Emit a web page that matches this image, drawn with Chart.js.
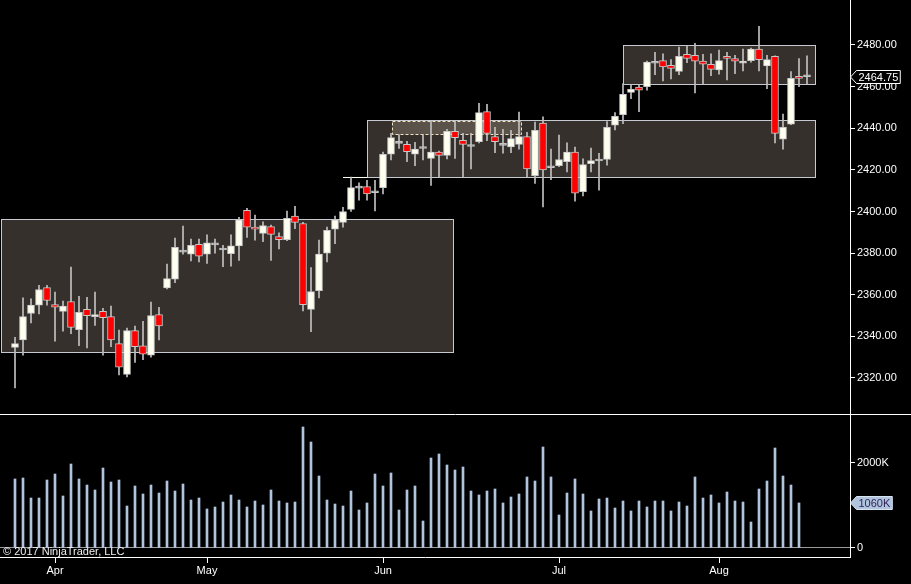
<!DOCTYPE html>
<html>
<head>
<meta charset="utf-8">
<script src="https://cdn.jsdelivr.net/npm/chart.js@4.4.1/dist/chart.umd.min.js"></script>
<style>
  html, body { margin: 0; padding: 0; background: #000; overflow: hidden; }
  #pricePane { position: absolute; left: 0; top: 0; }
  #volPane { position: absolute; left: 0; top: 414px; }
</style>
</head>
<body>
<div id="pricePane"><canvas id="priceChart" width="911" height="414"></canvas></div>
<div id="volPane"><canvas id="volChart" width="911" height="170"></canvas></div>
<script>
// daily bars, index 0 = Mar 27 2017
const opens = [
  2334.75, 2338.25, 2351, 2355, 2363.5, 2355.25, 2352, 2356.75, 2343.25, 2353,
  2349.5, 2352, 2349.5, 2336.5, 2321.75, 2342.75, 2335.5, 2331, 2350.5, 2363.25,
  2367.5, 2380.5, 2379.5, 2384.25, 2379.5, 2384, 2381.5, 2379.75, 2383.5, 2400.5,
  2392.5, 2389.5, 2392.75, 2388, 2386.5, 2397.75, 2394.25, 2353, 2362, 2380,
  2391.5, 2394.75, 2401, 2411.25, 2412, 2409, 2411.5, 2427.5, 2432.75, 2432.25,
  2427.5, 2430.25, 2425.5, 2428.5, 2427, 2438.5, 2434.25, 2431.25, 2433.5, 2448,
  2436, 2431.75, 2431, 2432.25, 2436, 2417.25, 2442.5, 2421, 2422, 2424,
  2428.5, 2409.5, 2423, 2424.25, 2425, 2441.5, 2446.5, 2457.25, 2459.75, 2460,
  2471.25, 2472.5, 2470.25, 2467.25, 2475.5, 2475, 2472.25, 2470.75, 2468, 2474.5,
  2473.5, 2471.25, 2472.5, 2478, 2470, 2474.5, 2434.75, 2442, 2465, 2464.75
];
const highs = [
  2339.5, 2358.5, 2358, 2364.5, 2364.5, 2361.25, 2357, 2373.25, 2359.25, 2358.75,
  2361.25, 2353.5, 2354.5, 2343, 2344, 2345, 2347.25, 2356.5, 2354, 2374.75,
  2387.25, 2393, 2386.75, 2386.75, 2388.75, 2386.75, 2383.75, 2388.75, 2397.25, 2401.5,
  2398.25, 2395, 2393.5, 2389.75, 2400.25, 2402.5, 2394.75, 2373, 2386.25, 2392.5,
  2397.75, 2402, 2416.5, 2413.75, 2415, 2415, 2428.5, 2437.5, 2437, 2433.75,
  2433.25, 2437, 2443.5, 2429, 2439.5, 2443.5, 2437.5, 2437.5, 2452, 2451.5,
  2440.5, 2439.5, 2439, 2447.75, 2438, 2443, 2445.5, 2430, 2436.75, 2433,
  2431, 2425.25, 2430.5, 2428, 2443.25, 2447.5, 2461.5, 2461, 2461, 2472.25,
  2476.5, 2475.75, 2473, 2479, 2479.5, 2480.75, 2475.5, 2475.75, 2477.5, 2476.5,
  2475, 2478, 2478.5, 2489, 2475, 2474.75, 2446.75, 2467.25, 2473.5, 2474.75
];
const lows = [
  2315.25, 2331, 2346.5, 2350.75, 2355, 2337.75, 2342.5, 2341.25, 2335.5, 2334.5,
  2345.25, 2331, 2335, 2321.5, 2320.5, 2327.5, 2328.75, 2330, 2338.25, 2362.75,
  2365.75, 2379.5, 2376.25, 2375.75, 2375, 2380, 2373.5, 2373.75, 2376.5, 2387.5,
  2386.25, 2385.5, 2376.5, 2382, 2386, 2391.75, 2352.25, 2342.25, 2358.5, 2375.75,
  2384.5, 2392.5, 2400, 2405.5, 2405.5, 2400.25, 2408.5, 2424.75, 2430.25, 2424,
  2422, 2424.75, 2412.5, 2416.25, 2425.25, 2425.5, 2416.25, 2420.5, 2433, 2434,
  2428.25, 2428, 2428.25, 2430, 2416.5, 2413.5, 2402.25, 2415.25, 2421.5, 2419,
  2405, 2407.5, 2419, 2410.25, 2422.25, 2439.25, 2442.25, 2454.25, 2448, 2458.25,
  2465.75, 2462.75, 2463.75, 2465.75, 2471.5, 2457, 2461, 2465.25, 2466, 2463.25,
  2466.25, 2467.5, 2471.75, 2467.5, 2459, 2433, 2430, 2441.75, 2460, 2461.25
];
const closes = [
  2336.5, 2349.5, 2355, 2362.5, 2357.25, 2354, 2354.5, 2344.25, 2351.5, 2350,
  2350.5, 2349, 2338.25, 2325.25, 2342.75, 2335, 2331.5, 2350, 2345, 2367.75,
  2382.75, 2380.5, 2383.75, 2378.5, 2385, 2384, 2381.5, 2383.5, 2396, 2392.5,
  2391.5, 2393.25, 2389, 2386.5, 2396.75, 2394.75, 2355.25, 2361.5, 2379.5, 2391,
  2396, 2400, 2411.5, 2411.25, 2408.5, 2409, 2427.5, 2435.5, 2432.75, 2428.75,
  2430, 2430.25, 2428.5, 2427, 2438.5, 2435.5, 2432.25, 2431.25, 2447.5, 2437.5,
  2433.5, 2431.75, 2435, 2436, 2420.5, 2439, 2420, 2421, 2425, 2428.5,
  2408.75, 2422.5, 2424.5, 2424.25, 2440.5, 2445.75, 2456.25, 2458.75, 2458.25, 2471.75,
  2471.25, 2469.5, 2468.75, 2474.5, 2473.5, 2472.25, 2470.75, 2468.25, 2472.5, 2473.5,
  2472.25, 2472.25, 2478, 2473, 2473, 2437.5, 2440.5, 2464, 2464, 2464.75
];
// volume in thousands of contracts (no bar for the last session)
const volumes = [
  1624, 1647, 1176, 1176, 1600, 1741, 1224, 1976, 1624, 1482,
  1365, 1882, 1553, 1600, 988, 1459, 1271, 1482, 1294, 1576,
  1341, 1506, 1129, 1176, 918, 965, 1082, 1247, 1129, 965,
  1106, 1012, 1365, 1106, 1059, 1082, 2847, 2494, 1694, 1129,
  1035, 988, 1341, 894, 1059, 1741, 1459, 1765, 894, 1365,
  1459, 635, 2118, 2212, 1953, 1835, 1906, 1341, 1247, 1341,
  1388, 1059, 1200, 1271, 1671, 1576, 2376, 1671, 776, 1294,
  1624, 1271, 871, 1153, 1176, 941, 1106, 871, 1106, 965,
  1106, 1106, 871, 1082, 988, 1671, 1176, 1247, 1059, 1318,
  1106, 1082, 612, 1388, 1576, 2353, 1694, 1482, 1060
];

const priceTicks = [2320, 2340, 2360, 2380, 2400, 2420, 2440, 2460, 2480];
const volumeTicks = [0, 2000];
const monthTickIdx = [5, 24, 46, 68, 88];
const monthLabels = ['Apr', 'May', 'Jun', 'Jul', 'Aug'];

// drawn rectangles (bar index from/to, price high/low)
const zoneFrom = [-1.75, 44.04, 76.04];
const zoneTo = [54.75, 100.04, 99.96];
const zoneHigh = [2396.2, 2443.9, 2480];
const zoneLow = [2332.7, 2416.4, 2461.1];
const boxFrom = [47.16];
const boxTo = [63.3];
const boxHigh = [2443.3];
const boxLow = [2437.4];
const lineFrom = [41];
const lineTo = [44.04];
const linePrice = [2416.4];

// axis ranges
const xMin = -1.875, xMax = 104.375;
const priceMin = 2302.7, priceMax = 2501.62;
const volMin = -211.8, volMax = 3152.9;

const UP = '#fffff0';
const DOWN = '#ff0000';
const OUTLINE = '#c8c8c8';
const WICK = '#c0c0c0';
const VOL = '#b0c4de';
const ZONE_FILL = '#35302c';
const ZONE_LINE = '#c5cad0';

Chart.defaults.font.family = '"Liberation Sans", Arial, sans-serif';
Chart.defaults.font.size = 11;
Chart.defaults.color = '#ffffff';

function drawTag(ctx, x, y, text, fill, stroke, color) {
  ctx.save();
  ctx.font = '11px "Liberation Sans", Arial, sans-serif';
  const w = ctx.measureText(text).width + 4;
  ctx.beginPath();
  ctx.moveTo(x + 0.5, y);
  ctx.lineTo(x + 6.5, y - 6.5);
  ctx.lineTo(x + 6.5 + w, y - 6.5);
  ctx.lineTo(x + 6.5 + w, y + 6.5);
  ctx.lineTo(x + 6.5, y + 6.5);
  ctx.closePath();
  ctx.fillStyle = fill;
  ctx.fill();
  ctx.strokeStyle = stroke;
  ctx.lineWidth = 1;
  ctx.stroke();
  ctx.fillStyle = color;
  ctx.textBaseline = 'middle';
  ctx.textAlign = 'left';
  ctx.fillText(text, x + 8.5, y + 0.5);
  ctx.restore();
}

const px = v => Math.round(v) + 0.5;

const zonePlugin = {
  id: 'zones',
  beforeDatasetsDraw(chart) {
    const { ctx } = chart;
    const xs = chart.scales.x, ys = chart.scales.y;
    ctx.save();
    for (let i = 0; i < zoneFrom.length; i++) {
      const x0 = px(xs.getPixelForValue(zoneFrom[i]));
      const x1 = px(xs.getPixelForValue(zoneTo[i]));
      const y0 = px(ys.getPixelForValue(zoneHigh[i]));
      const y1 = px(ys.getPixelForValue(zoneLow[i]));
      ctx.fillStyle = ZONE_FILL;
      ctx.fillRect(x0, y0, x1 - x0, y1 - y0);
      ctx.strokeStyle = ZONE_LINE;
      ctx.lineWidth = 1;
      ctx.strokeRect(x0, y0, x1 - x0, y1 - y0);
    }
    for (let i = 0; i < boxFrom.length; i++) {
      const x0 = px(xs.getPixelForValue(boxFrom[i]));
      const x1 = px(xs.getPixelForValue(boxTo[i]));
      const y0 = px(ys.getPixelForValue(boxHigh[i]));
      const y1 = px(ys.getPixelForValue(boxLow[i]));
      ctx.fillStyle = '#5b5249';
      ctx.fillRect(x0, y0, x1 - x0, y1 - y0);
      ctx.setLineDash([3, 2]);
      ctx.strokeStyle = '#f2e2c0';
      ctx.strokeRect(x0, y0, x1 - x0, y1 - y0);
      ctx.setLineDash([]);
    }
    for (let i = 0; i < lineFrom.length; i++) {
      const yy = px(ys.getPixelForValue(linePrice[i]));
      ctx.strokeStyle = '#fffff0';
      ctx.beginPath();
      ctx.moveTo(xs.getPixelForValue(lineFrom[i]), yy);
      ctx.lineTo(xs.getPixelForValue(lineTo[i]), yy);
      ctx.stroke();
    }
    ctx.restore();
  },
  afterDraw(chart) {
    const ys = chart.scales.y;
    const last = closes[closes.length - 1];
    drawTag(chart.ctx, chart.chartArea.right, Math.round(ys.getPixelForValue(last)),
      last.toFixed(2), '#000000', '#ffffff', '#ffffff');
  }
};

const volPlugin = {
  id: 'volDecor',
  afterDraw(chart) {
    const { ctx, chartArea } = chart;
    ctx.save();
    ctx.strokeStyle = '#ffffff';
    ctx.lineWidth = 1;
    ctx.beginPath();
    ctx.moveTo(0, 0.5);
    ctx.lineTo(chart.width, 0.5);
    ctx.stroke();
    ctx.font = '11px "Liberation Sans", Arial, sans-serif';
    ctx.fillStyle = '#f0f0f0';
    ctx.textBaseline = 'alphabetic';
    ctx.fillText('\u00a9 2017 NinjaTrader, LLC', 3, chartArea.bottom - 2);
    ctx.restore();
    const lastVol = volumes[volumes.length - 1];
    drawTag(ctx, chartArea.right, Math.round(chart.scales.y.getPixelForValue(lastVol)),
      lastVol + 'K', VOL, '#d8e2f0', '#2e1f55');
  }
};

const idx = closes.map((c, i) => i);
const bodyColors = closes.map((c, i) => c > opens[i] ? UP : (c < opens[i] ? DOWN : WICK));

new Chart(document.getElementById('priceChart').getContext('2d'), {
  type: 'bar',
  data: {
    datasets: [{
      label: 'Body',
      data: idx.map(i => ({ x: i, y: [opens[i], closes[i]] })),
      backgroundColor: bodyColors,
      borderColor: OUTLINE,
      borderWidth: 1,
      borderSkipped: false,
      barThickness: 7,
      minBarLength: 2,
      grouped: false,
      order: 0
    }, {
      label: 'Wick',
      data: idx.map(i => ({ x: i, y: [lows[i], highs[i]] })),
      backgroundColor: WICK,
      borderWidth: 0,
      barThickness: 1,
      grouped: false,
      order: 1
    }]
  },
  options: {
    responsive: false,
    animation: false,
    layout: { padding: 0 },
    plugins: { legend: { display: false }, tooltip: { enabled: false } },
    scales: {
      x: { type: 'linear', min: xMin, max: xMax, offset: false, display: false, grid: { offset: false } },
      y: {
        position: 'right',
        min: priceMin,
        max: priceMax,
        beginAtZero: false,
        afterBuildTicks: s => { s.ticks = priceTicks.map(v => ({ value: v })); },
        afterFit: s => { s.width = 61; s.paddingTop = 0; s.paddingBottom = 0; },
        grid: { drawOnChartArea: false, tickLength: 5, tickColor: '#ffffff' },
        border: { color: '#ffffff' },
        ticks: { color: '#ffffff', padding: 2, callback: v => v.toFixed(2) }
      }
    }
  },
  plugins: [zonePlugin]
});

new Chart(document.getElementById('volChart').getContext('2d'), {
  type: 'bar',
  data: {
    datasets: [{
      label: 'Volume',
      data: volumes.map((v, i) => ({ x: i, y: v })),
      backgroundColor: VOL,
      borderWidth: 0,
      barThickness: 2,
      grouped: false
    }]
  },
  options: {
    responsive: false,
    animation: false,
    layout: { padding: 0 },
    plugins: { legend: { display: false }, tooltip: { enabled: false } },
    scales: {
      x: {
        type: 'linear',
        min: xMin,
        max: xMax,
        offset: false,
        afterBuildTicks: s => { s.ticks = monthTickIdx.map(v => ({ value: v })); },
        afterFit: s => { s.height = 27; s.paddingLeft = 0; s.paddingRight = 0; },
        grid: { drawOnChartArea: false, offset: false, tickLength: 6, tickColor: '#ffffff' },
        border: { color: '#ffffff' },
        ticks: {
          color: '#ffffff', padding: 1, maxRotation: 0, autoSkip: false,
          callback: v => monthLabels[monthTickIdx.indexOf(v)]
        }
      },
      y: {
        position: 'right',
        min: volMin,
        max: volMax,
        beginAtZero: false,
        afterBuildTicks: s => { s.ticks = volumeTicks.map(v => ({ value: v })); },
        afterFit: s => { s.width = 61; s.paddingTop = 0; s.paddingBottom = 0; },
        grid: {
          color: c => (c.tick && c.tick.value === 0) ? '#9a9a9a' : 'rgba(0,0,0,0)',
          tickLength: 5,
          tickColor: '#ffffff'
        },
        border: { color: '#ffffff' },
        ticks: { color: '#ffffff', padding: 2, callback: v => v === 0 ? '0' : v + 'K' }
      }
    }
  },
  plugins: [volPlugin]
});
</script>
</body>
</html>
